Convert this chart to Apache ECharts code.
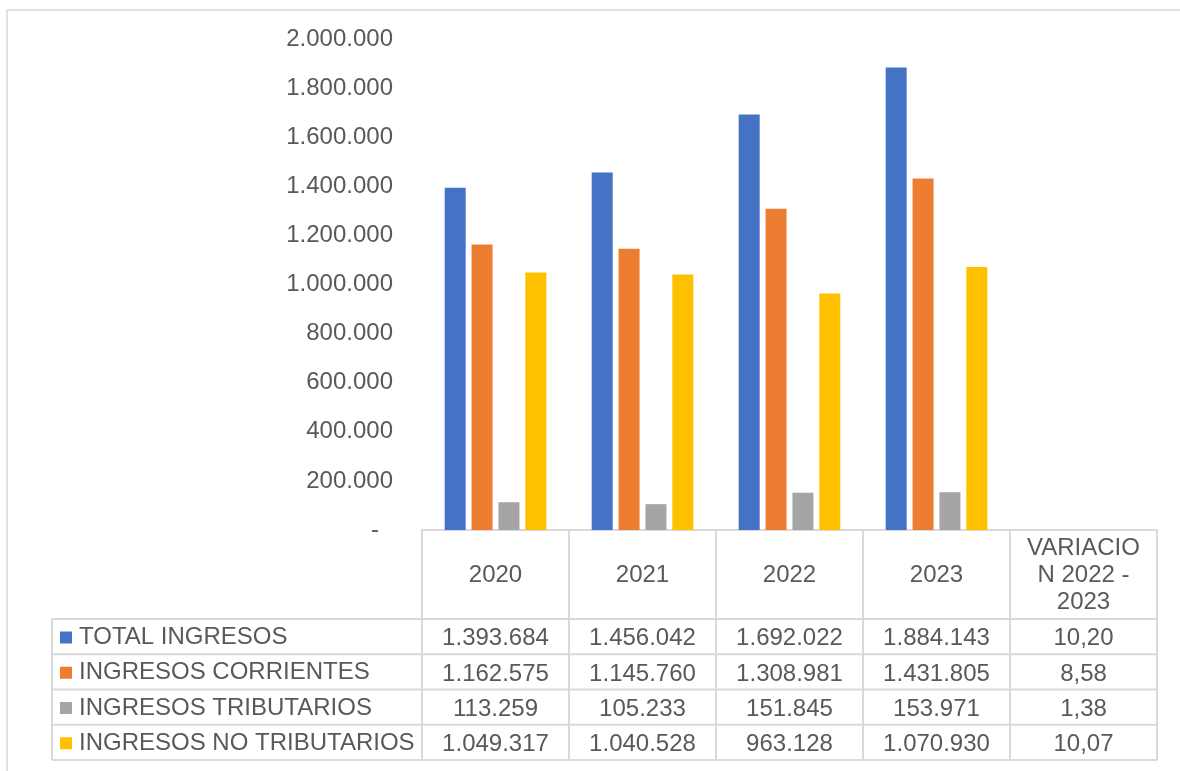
<!DOCTYPE html>
<html>
<head>
<meta charset="utf-8">
<style>
  html, body { margin: 0; padding: 0; background: #ffffff; }
  #chart { width: 1180px; height: 771px; }
</style>
<script src="https://cdn.jsdelivr.net/npm/echarts@6/dist/echarts.min.js"></script>
</head>
<body>
<div id="chart"></div>
<script>
// ---- Data ----
const categories = ['2020', '2021', '2022', '2023', 'VARIACION 2022 - 2023'];
const headerLabels = ['2020', '2021', '2022', '2023', 'VARIACIO\nN 2022 -\n2023'];
const seriesNames = ['TOTAL INGRESOS', 'INGRESOS CORRIENTES', 'INGRESOS TRIBUTARIOS', 'INGRESOS NO TRIBUTARIOS'];
const totalIngresos = [1393684, 1456042, 1692022, 1884143, 10.20];
const ingresosCorrientes = [1162575, 1145760, 1308981, 1431805, 8.58];
const ingresosTributarios = [113259, 105233, 151845, 153971, 1.38];
const ingresosNoTributarios = [1049317, 1040528, 963128, 1070930, 10.07];
const yTicks = { min: 0, max: 2000000, interval: 200000 };

// ---- Styling / layout ----
const colors = ['#4472C4', '#ED7D31', '#A5A5A5', '#FFC000'];
const textColor = '#595959';
const lineColor = '#d9d9d9';
const fontFamily = "'Liberation Sans', Arial, sans-serif";
const fontSize = 24;
const W = 1180, H = 771;
const gridLeft = 422, gridRight = 23, gridTop = 39, gridBottom = 241;
const plotBottomY = H - gridBottom;      // 530
const headerH = 89, rowH = 35.25;
const tableLeft = 52, tableRight = W - gridRight;

const rows = [totalIngresos, ingresosCorrientes, ingresosTributarios, ingresosNoTributarios];

function thousands(v) {
  return String(Math.round(v)).replace(/\B(?=(\d{3})+(?!\d))/g, '.');
}
function cellText(v, i) {
  if (i === categories.length - 1) return v.toFixed(2).replace('.', ',');
  return thousands(v);
}

const chart = echarts.init(document.getElementById('chart'), null, { renderer: 'canvas' });

const xAxes = [{
  type: 'category',
  gridIndex: 0,
  data: categories,
  boundaryGap: true,
  axisLine: { show: true, lineStyle: { color: lineColor, width: 2 } },
  axisTick: { show: true, interval: 0, length: headerH + rowH * 4, lineStyle: { color: lineColor, width: 2 } },
  axisLabel: {
    interval: 0,
    margin: headerH / 2 + 1,
    verticalAlign: 'middle',
    align: 'center',
    lineHeight: 27,
    color: textColor,
    fontSize: fontSize,
    fontFamily: fontFamily,
    formatter: (v, i) => headerLabels[i]
  }
}];
rows.forEach((arr, r) => {
  xAxes.push({
    type: 'category',
    gridIndex: 0,
    position: 'bottom',
    offset: headerH + rowH * r + rowH / 2 + 2,
    data: categories,
    axisLine: { show: false },
    axisTick: { show: false },
    axisLabel: {
      interval: 0,
      margin: 0,
      verticalAlign: 'middle',
      align: 'center',
      color: textColor,
      fontSize: fontSize,
      fontFamily: fontFamily,
      formatter: (v, i) => cellText(arr[i], i)
    }
  });
});

const graphics = [{
  type: 'rect',
  shape: { x: 7, y: 10, width: W + 50, height: H + 50 },
  style: { fill: 'none', stroke: lineColor, lineWidth: 1.5 },
  silent: true
}];
for (let k = 0; k <= 4; k++) {
  const y = plotBottomY + headerH + rowH * k;
  graphics.push({
    type: 'line',
    shape: { x1: tableLeft, y1: y, x2: tableRight, y2: y },
    style: { stroke: lineColor, lineWidth: 2 },
    silent: true
  });
}
graphics.push({
  type: 'line',
  shape: { x1: tableLeft, y1: plotBottomY + headerH, x2: tableLeft, y2: plotBottomY + headerH + rowH * 4 },
  style: { stroke: lineColor, lineWidth: 2 },
  silent: true
});

const option = {
  backgroundColor: '#ffffff',
  animation: false,
  color: colors,
  textStyle: { fontFamily: fontFamily },
  grid: { left: gridLeft, right: gridRight, top: gridTop, bottom: gridBottom, containLabel: false },
  legend: {
    orient: 'vertical',
    left: 60,
    top: plotBottomY + headerH + 6.5,
    padding: [0, 0, 0, 0],
    itemWidth: 12,
    itemHeight: 12,
    itemGap: rowH - 24,
    icon: 'rect',
    selectedMode: false,
    data: seriesNames,
    textStyle: { color: textColor, fontSize: fontSize, fontFamily: fontFamily, lineHeight: 24, padding: [0, 0, 0, 2] }
  },
  xAxis: xAxes,
  yAxis: {
    type: 'value',
    min: yTicks.min,
    max: yTicks.max,
    interval: yTicks.interval,
    splitLine: { show: false },
    axisLine: { show: false },
    axisTick: { show: false },
    axisLabel: {
      margin: 29,
      color: textColor,
      fontSize: fontSize,
      fontFamily: fontFamily,
      formatter: v => (v === 0 ? '{d|-}' : thousands(v)),
      rich: { d: { color: textColor, fontSize: fontSize, fontFamily: fontFamily, padding: [0, 14, 0, 0] } }
    }
  },
  series: seriesNames.map((name, i) => ({
    name: name,
    type: 'bar',
    xAxisIndex: 0,
    yAxisIndex: 0,
    data: rows[i],
    barWidth: 21,
    barGap: '28%',
    itemStyle: { color: colors[i] }
  })),
  graphic: graphics
};

chart.setOption(option);
</script>
</body>
</html>
